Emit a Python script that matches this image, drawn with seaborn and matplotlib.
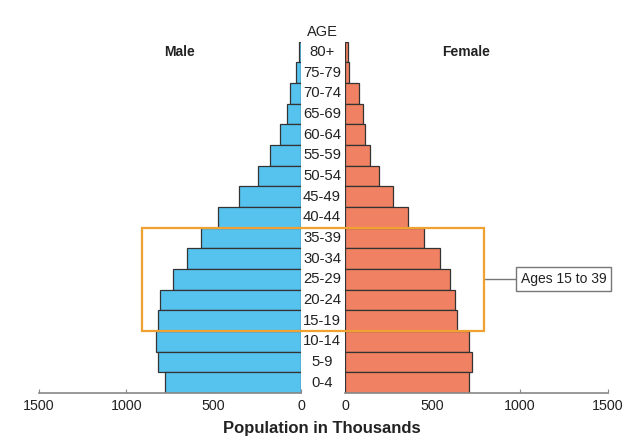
import matplotlib
matplotlib.use("Agg")
import matplotlib.pyplot as plt
import seaborn as sns
import pandas as pd
from matplotlib.patches import Rectangle
from matplotlib.lines import Line2D
import matplotlib.transforms as mtransforms

ages = ["80+", "75-79", "70-74", "65-69", "60-64", "55-59", "50-54", "45-49",
        "40-44", "35-39", "30-34", "25-29", "20-24", "15-19", "10-14", "5-9", "0-4"]
male = [12, 28, 65, 82, 122, 179, 246, 355, 473, 570, 652, 733, 805, 818, 832, 818, 777]
female = [17, 25, 78, 103, 114, 145, 196, 272, 362, 450, 541, 598, 627, 638, 710, 724, 710]
xticks = [0, 500, 1000, 1500]
highlight = ["35-39", "15-19"]
highlight_male_extent = 910
highlight_female_extent = 795

sns.set_theme(style="white")
plt.rcParams['font.family'] = ['Liberation Sans', 'DejaVu Sans']

df = pd.DataFrame({"age": ages, "male": male, "female": female})

fig = plt.figure(figsize=(6.42, 4.36), dpi=100)
bottom = (436 - 393) / 436
top = (436 - 41.7) / 436
axL = fig.add_axes([39 / 642, bottom, (301 - 39) / 642, top - bottom])
axR = fig.add_axes([345 / 642, bottom, (607.7 - 345) / 642, top - bottom])

edge = "#333333"
sns.barplot(data=df, y="age", x="male", order=ages, orient="h", width=1.0,
            color="#56C3EF", saturation=1, edgecolor=edge, linewidth=0.9, ax=axL)
sns.barplot(data=df, y="age", x="female", order=ages, orient="h", width=1.0,
            color="#F08163", saturation=1, edgecolor=edge, linewidth=0.9, ax=axR)

axL.set_xlim(1500, 0)
axR.set_xlim(0, 1500)
for ax in (axL, axR):
    ax.set_ylim(len(ages) - 0.5, -0.5)
    ax.set_xticks(xticks)
    ax.set_xticklabels([str(t) for t in xticks], fontsize=10.3, color="#222222")
    ax.set_yticks([])
    ax.set_xlabel("")
    ax.set_ylabel("")
    for s in ("top", "left", "right"):
        ax.spines[s].set_visible(False)
    ax.spines["bottom"].set_color("#888888")
    ax.spines["bottom"].set_linewidth(1.2)
    ax.tick_params(axis="x", direction="in", length=3, width=0.8, color="#888888", pad=4,
                   bottom=True)

# Age labels in the middle
cx = 322 / 642
trans = mtransforms.blended_transform_factory(fig.transFigure, axL.transData)
for i, a in enumerate(ages):
    fig.text(cx, i, a, transform=trans, ha="center", va="center", fontsize=10.7, color="#222222")

fig.text(cx, 1 - 31.7 / 436, "AGE", ha="center", va="center", fontsize=10.5, color="#222222")
fig.text(180 / 642, 1 - 52 / 436, "Male", ha="center", va="center", fontsize=10,
         fontweight="bold", color="#222222")
fig.text(466 / 642, 1 - 52 / 436, "Female", ha="center", va="center", fontsize=10,
         fontweight="bold", color="#222222")
fig.text(cx, 1 - 428 / 436, "Population in Thousands", ha="center", va="center",
         fontsize=12, fontweight="bold", color="#222222")

# Highlight rectangle spanning both panels
fig.canvas.draw()
inv = fig.transFigure.inverted()
i_top = ages.index(highlight[0]) - 0.5
i_bot = ages.index(highlight[1]) + 0.5
x0, y0 = inv.transform(axL.transData.transform((highlight_male_extent, i_top)))
x1, y1 = inv.transform(axR.transData.transform((highlight_female_extent, i_bot)))
rect = Rectangle((x0, y1), x1 - x0, y0 - y1, transform=fig.transFigure, fill=False,
                 edgecolor="#EFA232", linewidth=1.6, zorder=10)
fig.add_artist(rect)

ymid = (y0 + y1) / 2
box_left = 518 / 642
fig.add_artist(Line2D([x1, box_left], [ymid, ymid], transform=fig.transFigure,
                      color="#777777", linewidth=1.0))
fig.text(box_left + 0.004, ymid, "Ages 15 to 39", ha="left", va="center", fontsize=10,
         color="#222222",
         bbox=dict(boxstyle="square,pad=0.35", facecolor="white", edgecolor="#777777", linewidth=1.0))

fig.savefig("out.png", dpi=100)
